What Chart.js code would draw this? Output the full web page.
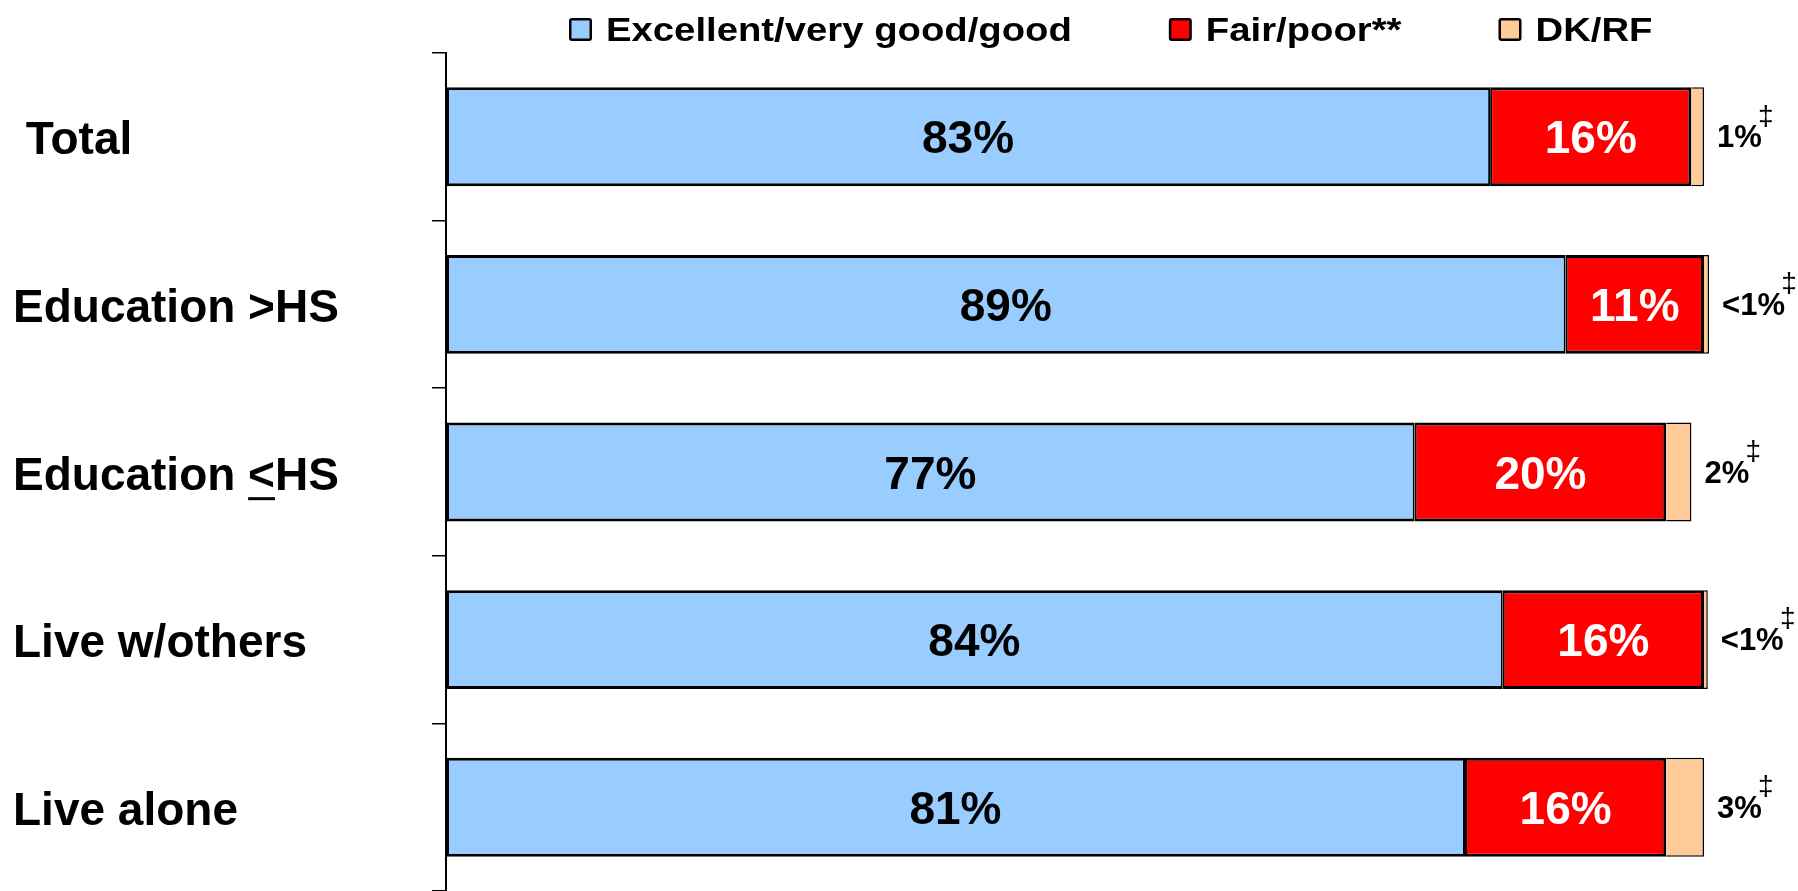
<!DOCTYPE html>
<html>
<head>
<meta charset="utf-8">
<title>Self-rated health</title>
<script src="https://cdn.jsdelivr.net/npm/chart.js@4.4.1/dist/chart.umd.min.js"></script>
<style>
  html, body { margin: 0; padding: 0; background: #fff; }
  #wrap { width: 1798px; height: 891px; position: relative; }
</style>
</head>
<body>
<div id="wrap"><canvas id="healthChart"></canvas></div>
<script>
const groupLabels = [' Total', 'Education >HS', 'Education <HS', 'Live w/others', 'Live alone'];
const goodShare = [83, 89, 77, 84, 81];
const poorShare = [16, 11, 20, 16, 16];
const dkShare = [1, 0.4, 2, 0.3, 3];
const seriesNames = ['Excellent/very good/good', 'Fair/poor**', 'DK/RF'];

const FONT = "'Liberation Sans', Arial, Helvetica, sans-serif";

function pctText(v) {
    return (v < 1 ? '<1' : String(v)) + '%';
}

// percentages inside the bars, DK/RF share (with double dagger) to the right
const barLabels = {
    id: 'barLabels',
    afterDatasetsDraw(chart) {
        const ctx = chart.ctx;
        ctx.save();
        ctx.textBaseline = 'middle';
        chart.data.datasets.forEach((ds, di) => {
            const meta = chart.getDatasetMeta(di);
            meta.data.forEach((bar, i) => {
                const v = ds.data[i];
                const txt = pctText(v);
                if (di < 2) {
                    const c = bar.getCenterPoint();
                    ctx.font = 'bold 46px ' + FONT;
                    ctx.textAlign = 'center';
                    ctx.fillStyle = di === 0 ? '#000' : '#fff';
                    ctx.fillText(txt, c.x, c.y + 4);
                } else {
                    ctx.font = 'bold 31px ' + FONT;
                    ctx.textAlign = 'left';
                    ctx.fillStyle = '#000';
                    const tx = bar.x + 13;
                    ctx.fillText(txt, tx, bar.y + 2);
                    const w = ctx.measureText(txt).width;
                    ctx.font = '28px ' + FONT;
                    ctx.textAlign = 'center';
                    ctx.fillText('\u2021', tx + w + 4, bar.y - 20);
                }
            });
        });
        ctx.restore();
    }
};

// underline under the "<" of the low-education label (reads as "less or equal")
const lessEqualMark = {
    id: 'lessEqualMark',
    afterDraw(chart) {
        const scale = chart.scales.y;
        const idx = groupLabels.indexOf('Education <HS');
        if (idx < 0) return;
        const ctx = chart.ctx;
        ctx.save();
        ctx.font = 'bold 46px ' + FONT;
        ctx.textBaseline = 'middle';
        const before = ctx.measureText('Education ').width;
        const sign = ctx.measureText('<').width;
        const drop = ctx.measureText('E').actualBoundingBoxDescent;
        const y = scale.getPixelForTick(idx) + scale.options.ticks.labelOffset + drop + 9;
        ctx.strokeStyle = '#000';
        ctx.lineWidth = 3;
        ctx.beginPath();
        ctx.moveTo(scale.left + before, y);
        ctx.lineTo(scale.left + before + sign, y);
        ctx.stroke();
        ctx.restore();
    }
};

// legend row across the top
const topLegend = {
    id: 'topLegend',
    afterDraw(chart) {
        const ctx = chart.ctx;
        const stretch = 1.16;
        const box = 23;
        const boxTop = 18;
        const baseline = 41;
        let x = 569;
        ctx.save();
        ctx.font = 'bold 33px ' + FONT;
        ctx.textBaseline = 'alphabetic';
        ctx.textAlign = 'left';
        chart.data.datasets.forEach(ds => {
            ctx.fillStyle = '#000';
            ctx.beginPath();
            ctx.roundRect(x, boxTop, box, box, 3);
            ctx.fill();
            ctx.fillStyle = ds.backgroundColor;
            ctx.fillRect(x + 2.5, boxTop + 2.5, box - 5, box - 5);

            const tx = x + box + 14;
            ctx.fillStyle = '#000';
            ctx.save();
            ctx.translate(tx, baseline);
            ctx.scale(stretch, 1);
            ctx.fillText(ds.label, 0, 0);
            ctx.restore();
            x = tx + ctx.measureText(ds.label).width * stretch + 97;
        });
        ctx.restore();
    }
};

document.addEventListener('DOMContentLoaded', function () {
    const canvas = document.getElementById('healthChart');
    const ctx = canvas.getContext('2d');
    Chart.defaults.font.family = FONT;

    new Chart(ctx, {
        type: 'bar',
        data: {
            labels: groupLabels,
            datasets: [
                {
                    label: seriesNames[0],
                    data: goodShare,
                    backgroundColor: '#99CCFF',
                    borderColor: '#000',
                    borderWidth: { top: 3, bottom: 3, left: 3, right: 2 },
                    borderSkipped: false
                },
                {
                    label: seriesNames[1],
                    data: poorShare,
                    backgroundColor: '#FF0000',
                    borderColor: '#000',
                    borderWidth: { top: 3, bottom: 3, left: 2, right: 3 },
                    borderSkipped: false
                },
                {
                    label: seriesNames[2],
                    data: dkShare,
                    backgroundColor: '#FFCC99',
                    borderColor: '#000',
                    borderWidth: { top: 1.5, bottom: 1.5, left: 0, right: 1.5 },
                    borderSkipped: false
                }
            ]
        },
        options: {
            indexAxis: 'y',
            responsive: true,
            maintainAspectRatio: false,
            animation: false,
            datasets: {
                bar: { barPercentage: 0.59, categoryPercentage: 1.0, clip: false }
            },
            layout: {
                padding: { top: 53, left: 13, right: 94, bottom: 0 }
            },
            plugins: {
                legend: { display: false },
                tooltip: { enabled: false }
            },
            scales: {
                x: {
                    stacked: true,
                    display: false,
                    min: 0,
                    max: 100
                },
                y: {
                    stacked: true,
                    afterFit: function (scale) {
                        // fixed label column; category axis runs to the bottom edge
                        scale.width = 433;
                        scale.paddingTop = 0;
                        scale.paddingBottom = 0;
                    },
                    grid: {
                        offset: true,
                        drawOnChartArea: false,
                        drawTicks: true,
                        tickLength: 14,
                        color: '#000',
                        lineWidth: 1.5
                    },
                    border: { display: true, color: '#000', width: 2 },
                    ticks: {
                        autoSkip: false,
                        crossAlign: 'far',
                        labelOffset: 5,
                        color: '#000',
                        font: { size: 46, weight: 'bold' }
                    }
                }
            }
        },
        plugins: [barLabels, lessEqualMark, topLegend]
    });
});
</script>
</body>
</html>
